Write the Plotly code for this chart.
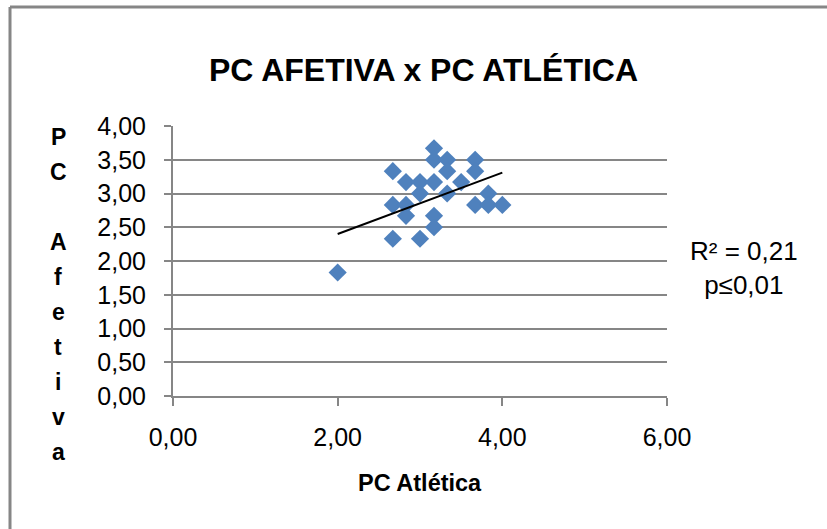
import plotly.graph_objects as go

# Data
pc_atletica = [2.00, 2.67, 2.67, 2.67, 2.83, 2.83, 2.83, 3.00, 3.00, 3.00,
               3.17, 3.17, 3.17, 3.17, 3.17, 3.33, 3.33, 3.33, 3.50, 3.67,
               3.67, 3.67, 3.83, 3.83, 4.00]
pc_afetiva = [1.83, 3.33, 2.83, 2.33, 3.17, 2.83, 2.67, 3.17, 3.00, 2.33,
              3.67, 3.50, 3.17, 2.67, 2.50, 3.50, 3.33, 3.00, 3.17, 3.50,
              3.33, 2.83, 3.00, 2.83, 2.83]
# Linear trend line as drawn in the reference (end points)
trend_x = [2.00, 4.00]
trend_y = [2.40, 3.31]

title_text = "PC AFETIVA x PC ATLÉTICA"
x_title = "PC Atlética"
y_title = "PC Afetiva"
stats_text = "R² = 0,21<br>p≤0,01"

FONT = "Liberation Sans, Arial, sans-serif"
GRAY = "#868686"
W, H = 827, 529
L, R, T, B = 173, 160, 126, 133
pw, ph = W - L - R, H - T - B

def px(xpix):
    return (xpix - L) / pw

def py(ypix):
    return (H - B - ypix) / ph

fig = go.Figure()
fig.add_trace(go.Scatter(
    x=pc_atletica, y=pc_afetiva, mode="markers",
    marker=dict(symbol="diamond", size=14, color="#4F81BD", line=dict(width=0)),
    showlegend=False, hoverinfo="skip"))
fig.add_trace(go.Scatter(
    x=trend_x, y=trend_y, mode="lines", line=dict(color="black", width=2),
    showlegend=False, hoverinfo="skip"))

annotations = [
    dict(text="<b>" + title_text + "</b>", x=px(423), y=py(70), xref="paper", yref="paper",
         showarrow=False, xanchor="center", yanchor="middle",
         font=dict(family=FONT, size=32, color="black")),
    dict(text="<b>" + x_title + "</b>", x=px(420), y=py(483), xref="paper", yref="paper",
         showarrow=False, xanchor="center", yanchor="middle",
         font=dict(family=FONT, size=23.5, color="black")),
    dict(text=stats_text, x=px(744), y=py(268), xref="paper", yref="paper",
         showarrow=False, xanchor="center", yanchor="middle", align="center",
         font=dict(family=FONT, size=26, color="black")),
]
# stacked vertical y-axis title letters
letters = ["P", "C", "", "A", "f", "e", "t", "i", "v", "a"]
for i, ch in enumerate(letters):
    if ch:
        annotations.append(dict(text="<b>" + ch + "</b>", x=px(58), y=py(137 + 35 * i),
                                xref="paper", yref="paper", showarrow=False,
                                xanchor="center", yanchor="middle",
                                font=dict(family=FONT, size=23, color="black")))

border = dict(color=GRAY, width=3)
fig.update_layout(
    width=W, height=H,
    margin=dict(l=L, r=R, t=T, b=B, pad=0),
    paper_bgcolor="white", plot_bgcolor="white",
    separators=",.",
    annotations=annotations,
    shapes=[
        dict(type="line", xref="paper", yref="paper",
             x0=px(10), x1=px(827), y0=py(7), y1=py(7), line=border, layer="below"),
        dict(type="line", xref="paper", yref="paper",
             x0=px(10), x1=px(10), y0=py(7), y1=py(529), line=border, layer="below"),
    ],
    xaxis=dict(range=[0, 6], dtick=2, tick0=0, tickformat=".2f",
               showgrid=False, zeroline=False, showline=True, linecolor=GRAY, linewidth=2,
               ticks="outside", ticklen=8, tickcolor=GRAY, tickwidth=2,
               ticklabelstandoff=10,
               tickfont=dict(family=FONT, size=25, color="black")),
    yaxis=dict(range=[0, 4], dtick=0.5, tick0=0, tickformat=".2f",
               showgrid=True, gridcolor=GRAY, gridwidth=2,
               zeroline=False, showline=True, linecolor=GRAY, linewidth=2,
               ticks="outside", ticklen=7, tickcolor=GRAY, tickwidth=2,
               ticklabelstandoff=13,
               tickfont=dict(family=FONT, size=25, color="black")),
)

fig.write_html("out.html", config={"displayModeBar": False},
               post_script=("document.documentElement.style.overflow='hidden';"
                            "document.body.style.margin='0';"
                            "document.body.style.overflow='hidden';"))
